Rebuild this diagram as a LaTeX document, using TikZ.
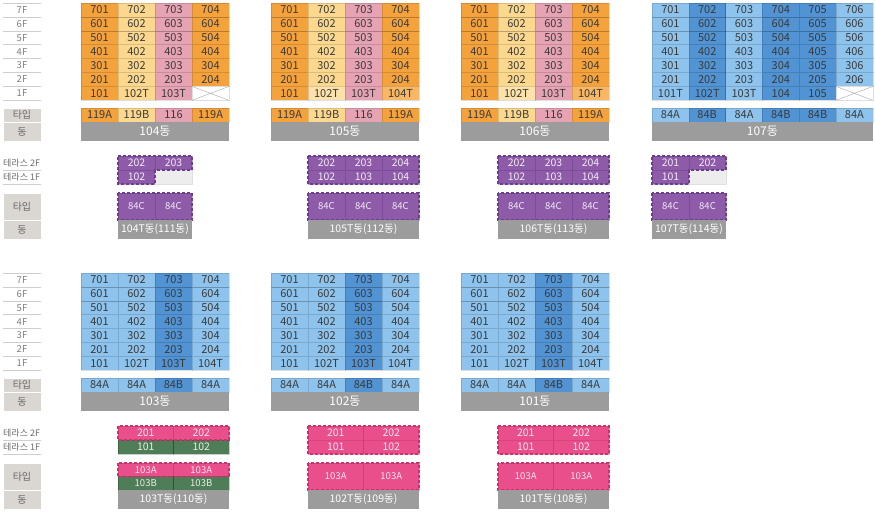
\documentclass[tikz,border=0pt]{standalone}
\usepackage{fontspec}
\setmainfont{Noto Sans CJK KR}
\definecolor{cOr}{HTML}{F4A23C}
\definecolor{cOrL}{HTML}{F7B765}
\definecolor{cYe}{HTML}{FBD88E}
\definecolor{cYeL}{HTML}{FCE2AA}
\definecolor{cPk}{HTML}{E6A3B4}
\definecolor{cBl}{HTML}{8DC3EC}
\definecolor{cBd}{HTML}{5193D3}
\definecolor{cPu}{HTML}{8D5BA8}
\definecolor{cPuD}{HTML}{6B3E8E}
\definecolor{cPuT}{HTML}{F2EAF6}
\definecolor{cMg}{HTML}{E9508B}
\definecolor{cMgD}{HTML}{C9346F}
\definecolor{cMgT}{HTML}{FDE3EC}
\definecolor{cGr}{HTML}{4F7D57}
\definecolor{cGrT}{HTML}{E5EFE6}
\definecolor{cGy}{HTML}{9C9C9C}
\definecolor{cLb}{HTML}{DAD7D2}
\definecolor{cTx}{HTML}{3A3A3A}
\definecolor{cEm}{HTML}{EDEDED}
\definecolor{cLt}{HTML}{808080}
\definecolor{cLt2}{HTML}{6A6A6A}
\definecolor{cLn}{HTML}{CFCFCF}
\tikzset{
  cell/.style={rectangle,inner sep=0pt,outer sep=0pt,draw=black,draw opacity=0.13,line width=0.5pt,text=cTx,minimum height=13.9pt,font=\fontsize{11}{11}\selectfont},
  tcell/.style={cell},
  pcell/.style={rectangle,inner sep=0pt,outer sep=0pt,draw=cPuD,draw opacity=0.45,line width=0.4pt,text=cPuT,font=\fontsize{10.5}{11}\selectfont},
  mcell/.style={rectangle,inner sep=0pt,outer sep=0pt,draw=cMgD,draw opacity=0.45,line width=0.4pt,text=cMgT,font=\fontsize{10.5}{11}\selectfont},
  gcell/.style={rectangle,inner sep=0pt,outer sep=0pt,draw=black,draw opacity=0.2,line width=0.4pt,text=cGrT,font=\fontsize{10.5}{11}\selectfont},
  smallfont/.style={font=\fontsize{9.5}{10}\selectfont},
  emcell/.style={rectangle,inner sep=0pt,outer sep=0pt,fill=cEm,draw=black!12,line width=0.4pt},
  dongbox/.style={rectangle,inner sep=0pt,outer sep=0pt,fill=cGy,text=white,minimum height=19pt,font=\fontsize{12}{12}\selectfont},
  tdongbox/.style={dongbox,font=\fontsize{10.5}{11}\selectfont},
  flbl/.style={text=cLt,font=\fontsize{9.5}{10}\selectfont,inner sep=0pt},
  tlbl/.style={text=cLt2,font=\fontsize{9}{10}\selectfont,inner sep=0pt},
  lline/.style={draw=cLn,line width=0.6pt},
  lblbox/.style={rectangle,inner sep=0pt,outer sep=0pt,fill=cLb,draw=white,line width=0.8pt,minimum width=38pt,text=cLt2,font=\fontsize{10}{10}\selectfont},
  pdash/.style={draw=cPuD,line width=1.1pt,dash pattern=on 3pt off 2pt},
  mdash/.style={draw=cMgD,line width=1.1pt,dash pattern=on 3pt off 2pt},
  xline/.style={draw=black!35,line width=0.4pt},
}
% building grid: name, x0, y0, cw, column colours, 1F list colour/label
\newcommand\grid[6]{%
  \foreach \cc [count=\i] in {#5}{%
    \foreach \f in {2,...,7}{%
      \node[cell,fill=\cc,minimum width=#4pt] (#1-\f-\i) at ({#2+(\i-0.5)*#4},{#3+(7.5-\f)*13.9}) {\f0\i};
    }%
  }%
  \foreach \cc/\lb [count=\i] in {#6}{%
    \node[cell,fill=\cc,minimum width=#4pt] (#1-1-\i) at ({#2+(\i-0.5)*#4},{#3+6.5*13.9}) {\lb};
  }%
}
% row of cells: name, x0, ycentre, cw, h, style, list colour/label
\newcommand\ccrow[7]{%
  \foreach \cc/\lb [count=\i] in {#7}{%
    \node[#6,fill=\cc,minimum width=#4pt,minimum height=#5pt] (#1-\i) at ({#2+(\i-0.5)*#4},#3) {\lb};
  }%
}
% floor label column: name, y0
\newcommand\floorcol[2]{%
  \foreach \f in {1,...,7}{\node[flbl] (#1-\f) at (22,{#2+(7.5-\f)*13.9}) {\f F};}%
  \foreach \k in {0,...,7}{\draw[lline] (3,{#2+\k*13.9}) -- (41,{#2+\k*13.9});}%
  \node[lblbox,minimum height=14pt] (#1-type) at (22,{#2+112}) {타입};
  \node[lblbox,minimum height=19pt] (#1-dong) at (22,{#2+128.5}) {동};
}
% terrace label column: name, y offset
\newcommand\terrcol[2]{%
  \node[tlbl,anchor=west] (#1-t2) at (3,{163+#2}) {테라스 2F};
  \node[tlbl,anchor=west] (#1-t1) at (3,{177+#2}) {테라스 1F};
  \draw[lline] (3,{170+#2}) -- (41,{170+#2});
  \draw[lline] (3,{184+#2}) -- (41,{184+#2});
  \node[lblbox,minimum height=27pt] (#1-ttype) at (22,{206.5+#2}) {타입};
  \node[lblbox,minimum height=19pt] (#1-tdong) at (22,{229.5+#2}) {동};
}
\begin{document}
\begin{tikzpicture}[x=1pt,y=-1pt]
\useasboundingbox[fill=white] (0,0) rectangle (875,512);

% ---------- label columns ----------
\floorcol{la}{3}
\terrcol{ta}{0}
\floorcol{lb}{273}
\terrcol{tb}{270}

% ---------- 104 ----------
\grid{b104}{81}{3}{37}{cOr,cYe,cPk,cOr}{cOr/101,cYe/102T,cPk/103T,white/{}}
\draw[xline] (b104-1-4.north west) -- (b104-1-4.south east) (b104-1-4.south west) -- (b104-1-4.north east);
\ccrow{b104-t}{81}{115}{37}{14}{tcell}{cOr/119A,cYe/119B,cPk/116,cOr/119A}
\node[dongbox,minimum width=148pt] (b104-d) at (155,131.5) {104동};

% ---------- 105 ----------
\grid{b105}{271}{3}{37}{cOr,cYe,cPk,cOr}{cOr/101,cYeL/102T,cPk/103T,cOrL/104T}
\ccrow{b105-t}{271}{115}{37}{14}{tcell}{cOr/119A,cYe/119B,cPk/116,cOr/119A}
\node[dongbox,minimum width=148pt] (b105-d) at (345,131.5) {105동};

% ---------- 106 ----------
\grid{b106}{461}{3}{37}{cOr,cYe,cPk,cOr}{cOr/101,cYeL/102T,cPk/103T,cOrL/104T}
\ccrow{b106-t}{461}{115}{37}{14}{tcell}{cOr/119A,cYe/119B,cPk/116,cOr/119A}
\node[dongbox,minimum width=148pt] (b106-d) at (535,131.5) {106동};

% ---------- 107 ----------
\grid{b107}{652}{3}{36.8}{cBl,cBd,cBl,cBd,cBd,cBl}{cBl/101T,cBd/102T,cBl/103T,cBd/104,cBd/105,white/{}}
\draw[xline] (b107-1-6.north west) -- (b107-1-6.south east) (b107-1-6.south west) -- (b107-1-6.north east);
\ccrow{b107-t}{652}{115}{36.8}{14}{tcell}{cBl/84A,cBd/84B,cBl/84A,cBd/84B,cBd/84B,cBl/84A}
\node[dongbox,minimum width=220.8pt] (b107-d) at (762.4,131.5) {107동};

% ---------- 104T ----------
\ccrow{t104-2}{118}{163}{37}{14}{pcell}{cPu/202,cPu/203}
\ccrow{t104-1}{118}{177}{37}{14}{pcell}{cPu/102}
\node[emcell,minimum width=37pt,minimum height=14pt] (t104-1-2) at (173.5,177) {};
\draw[pdash] (t104-2-1.north west) -- (t104-2-2.north east) -- (t104-2-2.south east) -- (t104-1-1.north east) -- (t104-1-1.south east) -- (t104-1-1.south west) -- cycle;
\ccrow{t104-t}{118}{206.5}{37}{27}{pcell,smallfont}{cPu/84C,cPu/84C}
\draw[pdash] (t104-t-1.north west) rectangle (t104-t-2.south east);
\node[tdongbox,minimum width=74pt] (t104-d) at (155,229.5) {104T동(111동)};

% ---------- 105T ----------
\ccrow{t105-2}{308}{163}{37}{14}{pcell}{cPu/202,cPu/203,cPu/204}
\ccrow{t105-1}{308}{177}{37}{14}{pcell}{cPu/102,cPu/103,cPu/104}
\draw[pdash] (t105-2-1.north west) rectangle (t105-1-3.south east);
\ccrow{t105-t}{308}{206.5}{37}{27}{pcell,smallfont}{cPu/84C,cPu/84C,cPu/84C}
\draw[pdash] (t105-t-1.north west) rectangle (t105-t-3.south east);
\node[tdongbox,minimum width=111pt] (t105-d) at (363.5,229.5) {105T동(112동)};

% ---------- 106T ----------
\ccrow{t106-2}{498}{163}{37}{14}{pcell}{cPu/202,cPu/203,cPu/204}
\ccrow{t106-1}{498}{177}{37}{14}{pcell}{cPu/102,cPu/103,cPu/104}
\draw[pdash] (t106-2-1.north west) rectangle (t106-1-3.south east);
\ccrow{t106-t}{498}{206.5}{37}{27}{pcell,smallfont}{cPu/84C,cPu/84C,cPu/84C}
\draw[pdash] (t106-t-1.north west) rectangle (t106-t-3.south east);
\node[tdongbox,minimum width=111pt] (t106-d) at (553.5,229.5) {106T동(113동)};

% ---------- 107T ----------
\ccrow{t107-2}{652}{163}{37}{14}{pcell}{cPu/201,cPu/202}
\ccrow{t107-1}{652}{177}{37}{14}{pcell}{cPu/101}
\node[emcell,minimum width=37pt,minimum height=14pt] (t107-1-2) at (707.5,177) {};
\draw[pdash] (t107-2-1.north west) -- (t107-2-2.north east) -- (t107-2-2.south east) -- (t107-1-1.north east) -- (t107-1-1.south east) -- (t107-1-1.south west) -- cycle;
\ccrow{t107-t}{652}{206.5}{37}{27}{pcell,smallfont}{cPu/84C,cPu/84C}
\draw[pdash] (t107-t-1.north west) rectangle (t107-t-2.south east);
\node[tdongbox,minimum width=74pt] (t107-d) at (689,229.5) {107T동(114동)};

% ---------- 103 ----------
\grid{b103}{81}{273}{37}{cBl,cBl,cBd,cBl}{cBl/101,cBl/102T,cBd/103T,cBl/104T}
\ccrow{b103-t}{81}{385}{37}{14}{tcell}{cBl/84A,cBl/84A,cBd/84B,cBl/84A}
\node[dongbox,minimum width=148pt] (b103-d) at (155,401.5) {103동};

% ---------- 102 ----------
\grid{b102}{271}{273}{37}{cBl,cBl,cBd,cBl}{cBl/101,cBl/102T,cBd/103T,cBl/104T}
\ccrow{b102-t}{271}{385}{37}{14}{tcell}{cBl/84A,cBl/84A,cBd/84B,cBl/84A}
\node[dongbox,minimum width=148pt] (b102-d) at (345,401.5) {102동};

% ---------- 101 ----------
\grid{b101}{461}{273}{37}{cBl,cBl,cBd,cBl}{cBl/101,cBl/102T,cBd/103T,cBl/104T}
\ccrow{b101-t}{461}{385}{37}{14}{tcell}{cBl/84A,cBl/84A,cBd/84B,cBl/84A}
\node[dongbox,minimum width=148pt] (b101-d) at (535,401.5) {101동};

% ---------- 103T ----------
\ccrow{t103-2}{118}{433}{55.5}{14}{mcell}{cMg/201,cMg/202}
\ccrow{t103-1}{118}{447}{55.5}{14}{gcell}{cGr/101,cGr/102}
\draw[mdash] (t103-2-1.north west) rectangle (t103-2-2.south east);
\ccrow{t103-ta}{118}{469.75}{55.5}{13.5}{mcell,smallfont}{cMg/103A,cMg/103A}
\ccrow{t103-tb}{118}{483.25}{55.5}{13.5}{gcell,smallfont}{cGr/103B,cGr/103B}
\draw[mdash] (t103-ta-1.north west) rectangle (t103-ta-2.south east);
\node[tdongbox,minimum width=111pt] (t103-d) at (173.5,499.5) {103T동(110동)};

% ---------- 102T ----------
\ccrow{t102-2}{308}{433}{55.5}{14}{mcell}{cMg/201,cMg/202}
\ccrow{t102-1}{308}{447}{55.5}{14}{mcell}{cMg/101,cMg/102}
\draw[mdash] (t102-2-1.north west) rectangle (t102-1-2.south east);
\ccrow{t102-t}{308}{476.5}{55.5}{27}{mcell,smallfont}{cMg/103A,cMg/103A}
\draw[mdash] (t102-t-1.north west) rectangle (t102-t-2.south east);
\node[tdongbox,minimum width=111pt] (t102-d) at (363.5,499.5) {102T동(109동)};

% ---------- 101T ----------
\ccrow{t101-2}{498}{433}{55.5}{14}{mcell}{cMg/201,cMg/202}
\ccrow{t101-1}{498}{447}{55.5}{14}{mcell}{cMg/101,cMg/102}
\draw[mdash] (t101-2-1.north west) rectangle (t101-1-2.south east);
\ccrow{t101-t}{498}{476.5}{55.5}{27}{mcell,smallfont}{cMg/103A,cMg/103A}
\draw[mdash] (t101-t-1.north west) rectangle (t101-t-2.south east);
\node[tdongbox,minimum width=111pt] (t101-d) at (553.5,499.5) {101T동(108동)};
\end{tikzpicture}
\end{document}
